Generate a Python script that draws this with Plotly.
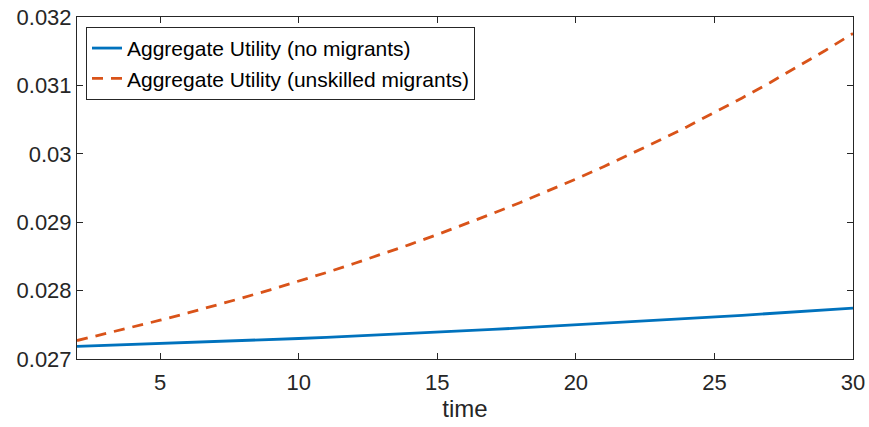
import plotly.graph_objects as go

time = list(range(2, 31))
no_migrants = [0.027186, 0.027199, 0.027212, 0.027225, 0.027239, 0.027254, 0.027269,
               0.027284, 0.027300, 0.027317, 0.027335, 0.027353, 0.027371, 0.027390,
               0.027411, 0.027432, 0.027454, 0.027476, 0.027498, 0.027521, 0.027544,
               0.027567, 0.027590, 0.027613, 0.027639, 0.027665, 0.027691, 0.027718,
               0.027745]
unskilled = [0.027270, 0.027366, 0.027464, 0.027567, 0.027673, 0.027783, 0.027897,
             0.028015, 0.028137, 0.028264, 0.028396, 0.028531, 0.028673, 0.028819,
             0.028970, 0.029127, 0.029289, 0.029457, 0.029631, 0.029812, 0.029999,
             0.030193, 0.030393, 0.030601, 0.030817, 0.031040, 0.031271, 0.031511,
             0.031759]

y_ticks = [0.027, 0.028, 0.029, 0.030, 0.031, 0.032]
y_tick_labels = ["0.027", "0.028", "0.029", "0.03", "0.031", "0.032"]
x_ticks = [5, 10, 15, 20, 25, 30]

axc = "#262626"
fig = go.Figure()
fig.add_trace(go.Scatter(x=time, y=no_migrants, mode="lines",
                         name="Aggregate Utility (no migrants)",
                         line=dict(color="#0072BD", width=2.8)))
fig.add_trace(go.Scatter(x=time, y=unskilled, mode="lines",
                         name="Aggregate Utility (unskilled migrants)",
                         line=dict(color="#D95319", width=2.8, dash="11px,8px")))

fig.update_layout(
    width=869, height=427,
    margin=dict(l=77, r=16, t=17, b=68, autoexpand=False),
    paper_bgcolor="white", plot_bgcolor="white",
    font=dict(family="Liberation Sans, Arial, sans-serif", size=22, color=axc),
    showlegend=True,
    legend=dict(x=0.0116, y=0.971, xanchor="left", yanchor="top",
                bgcolor="white", bordercolor=axc, borderwidth=1,
                font=dict(size=21, color="black"),
                tracegroupgap=0, itemwidth=30),
    xaxis=dict(range=[2, 30], tickvals=x_ticks, showgrid=False, zeroline=False,
               showline=True, linecolor=axc, linewidth=1, mirror="ticks",
               ticks="inside", ticklen=6, tickcolor=axc, ticklabelstandoff=4,
               ticklabeloverflow="allow", tickfont=dict(size=22),
               title=dict(text="time", standoff=2, font=dict(size=24))),
    yaxis=dict(range=[0.027, 0.032], tickvals=y_ticks, ticktext=y_tick_labels,
               showgrid=False, zeroline=False, tickfont=dict(size=22),
               ticklabeloverflow="allow",
               showline=True, linecolor=axc, linewidth=1, mirror="ticks",
               ticks="inside", ticklen=6, tickcolor=axc),
)

fig.write_html("out.html",
               config={"displayModeBar": False},
               post_script="document.body.style.margin='0';document.body.style.overflow='hidden';")
